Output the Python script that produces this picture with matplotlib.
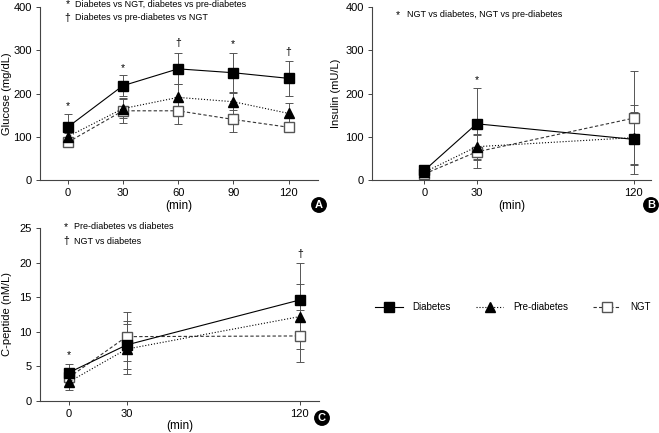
import matplotlib
matplotlib.use("Agg")
import matplotlib.pyplot as plt
from matplotlib.lines import Line2D

plt.rcParams['font.family'] = ['Liberation Sans', 'DejaVu Sans']

# time points (min)
t_glu = [0, 30, 60, 90, 120]
t_ins = [0, 30, 120]

# glucose (mg/dL)
glu_dm = [122, 218, 257, 248, 235]
glu_dm_sd = [30, 24, 36, 45, 41]
glu_pre = [100, 165, 191, 181, 154]
glu_pre_sd = [8, 22, 31, 20, 24]
glu_ngt = [87, 160, 160, 140, 122]
glu_ngt_sd = [6, 29, 31, 30, 10]

# insulin (mU/L)
ins_dm = [22, 130, 94]
ins_dm_sd = [5, 82, 80]
ins_pre = [18, 77, 98]
ins_pre_sd = [4, 30, 60]
ins_ngt = [14, 65, 143]
ins_ngt_sd = [4, 38, 108]

# C-peptide (nM/L)
cp_dm = [4.1, 8.1, 14.6]
cp_dm_sd = [1.2, 3.5, 5.3]
cp_pre = [2.75, 7.5, 12.2]
cp_pre_sd = [1.2, 3.6, 4.7]
cp_ngt = [3.4, 9.3, 9.4]
cp_ngt_sd = [0.8, 3.5, 3.8]

W, H = 659, 433
fig = plt.figure(figsize=(W / 100, H / 100), dpi=100)

def make_ax(l, r, b, t):
    return fig.add_axes([l / W, (H - b) / H, (r - l) / W, (b - t) / H])

axA = make_ax(40, 318, 180, 7)
axB = make_ax(372, 651, 180, 7)
axC = make_ax(40, 319, 401, 228)

ecol = '#555555'
styles = {
    'dm': dict(color='black', linestyle='-', marker='s', markersize=7,
               markerfacecolor='black', markeredgecolor='black'),
    'pre': dict(color='black', linestyle=':', marker='^', markersize=7,
                markerfacecolor='black', markeredgecolor='black'),
    'ngt': dict(color='#333333', linestyle='--', dashes=(3, 2), marker='s', markersize=7,
                markerfacecolor='white', markeredgecolor='#555555'),
}

def draw(ax, t, series):
    for key, y, sd in series:
        ax.errorbar(t, y, yerr=sd, ecolor=ecol, elinewidth=0.7, capsize=3,
                    capthick=0.7, linewidth=0.8, **styles[key])

def style_ax(ax, xlim, ylim, yticks, xticks, ylabel, ylab_x, xlab_y):
    ax.set_xlim(*xlim)
    ax.set_ylim(*ylim)
    ax.set_yticks(yticks)
    ax.set_xticks(xticks)
    for s in ['top', 'right']:
        ax.spines[s].set_visible(False)
    for s in ['left', 'bottom']:
        ax.spines[s].set_color('#444444')
        ax.spines[s].set_linewidth(0.8)
    ax.tick_params(direction='out', length=3, width=0.7, color='#444444',
                   labelsize=8, pad=3)
    ax.set_ylabel(ylabel, fontsize=8)
    ax.yaxis.set_label_coords(ylab_x, 0.5)
    ax.set_xlabel('(min)', fontsize=8.5)
    ax.xaxis.set_label_coords(0.5, xlab_y)

ann = 6.5

draw(axA, t_glu, [('ngt', glu_ngt, glu_ngt_sd), ('pre', glu_pre, glu_pre_sd), ('dm', glu_dm, glu_dm_sd)])
style_ax(axA, (-15, 136), (0, 400), [0, 100, 200, 300, 400], t_glu, 'Glucose (mg/dL)', -0.1, -0.118)
for x, y, s in [(0, 171, '*'), (30, 259, '*'), (60, 317, '†'), (90, 314, '*'), (120, 297, '†')]:
    axA.text(x, y, s, ha='center', va='center', fontsize=7.5)
axA.text(0, 406, '*', ha='center', va='center', fontsize=7.5)
axA.text(4, 406, 'Diabetes vs NGT, diabetes vs pre-diabetes', va='center', fontsize=ann)
axA.text(0, 375, '†', ha='center', va='center', fontsize=7.5)
axA.text(4, 375, 'Diabetes vs pre-diabetes vs NGT', va='center', fontsize=ann)

draw(axB, t_ins, [('ngt', ins_ngt, ins_ngt_sd), ('pre', ins_pre, ins_pre_sd), ('dm', ins_dm, ins_dm_sd)])
style_ax(axB, (-30, 130), (0, 400), [0, 100, 200, 300, 400], t_ins, 'Insulin (mU/L)', -0.11, -0.118)
axB.text(30, 232, '*', ha='center', va='center', fontsize=7.5)
axB.text(-15, 382, '*', ha='center', va='center', fontsize=7.5)
axB.text(-10, 382, 'NGT vs diabetes, NGT vs pre-diabetes', va='center', fontsize=ann)

draw(axC, t_ins, [('ngt', cp_ngt, cp_ngt_sd), ('pre', cp_pre, cp_pre_sd), ('dm', cp_dm, cp_dm_sd)])
style_ax(axC, (-15, 130), (0, 25), [0, 5, 10, 15, 20, 25], t_ins, 'C-peptide (nM/L)', -0.1, -0.11)
axC.text(0, 6.7, '*', ha='center', va='center', fontsize=7.5)
axC.text(120, 21.2, '†', ha='center', va='center', fontsize=7.5)
axC.text(-1.5, 25.2, '*', ha='center', va='center', fontsize=7.5)
axC.text(2.6, 25.2, 'Pre-diabetes vs diabetes', va='center', fontsize=ann)
axC.text(-1.5, 23.1, '†', ha='center', va='center', fontsize=7.5)
axC.text(2.6, 23.1, 'NGT vs diabetes', va='center', fontsize=ann)

# panel letters
for x, y, s in [(319, 205, 'A'), (651, 205, 'B'), (322, 418, 'C')]:
    fig.text(x / W, (H - y) / H, s, ha='center', va='center', color='white',
             fontsize=8, fontweight='bold',
             bbox=dict(boxstyle='circle,pad=0.2', facecolor='black', edgecolor='black'))

handles = [Line2D([], [], **styles['dm'], linewidth=0.8),
           Line2D([], [], **styles['pre'], linewidth=0.8),
           Line2D([], [], **styles['ngt'], linewidth=0.8)]
fig.legend(handles, ['Diabetes', 'Pre-diabetes', 'NGT'], ncol=3, frameon=False,
           loc='center', bbox_to_anchor=(513 / W, (H - 307) / H), fontsize=7,
           handlelength=2.8, columnspacing=2.6, handletextpad=1.0)

fig.savefig('out.png', dpi=100)
